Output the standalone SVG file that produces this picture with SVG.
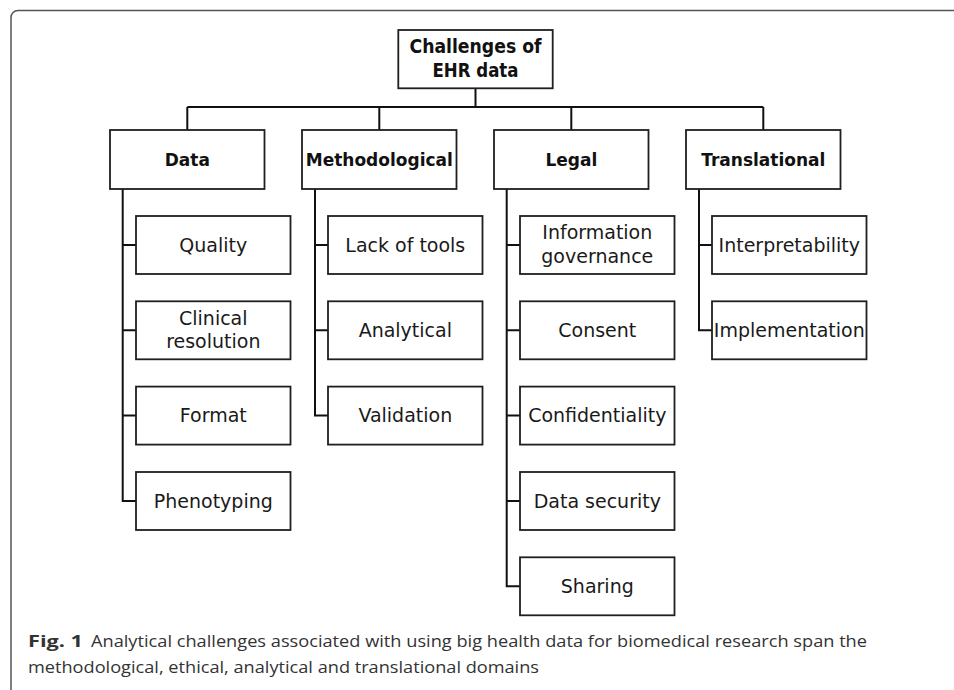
<svg xmlns="http://www.w3.org/2000/svg" width="954" height="690" viewBox="0 0 954 690">
<style>
.box{fill:#fff;stroke:#1f1f1f;stroke-width:1.8}
.conn{fill:none;stroke:#111;stroke-width:2}
.root{font-family:"DejaVu Sans Condensed","DejaVu Sans",sans-serif;font-stretch:condensed;font-weight:bold;font-size:19px;fill:#111;text-anchor:middle}
.cat{font-family:"DejaVu Sans",sans-serif;font-weight:bold;font-size:17px;fill:#111;text-anchor:middle}
.sub{font-family:"DejaVu Sans",sans-serif;font-size:19px;fill:#1a1a1a;text-anchor:middle}
.cap{font-family:"Open Sans","Liberation Sans",sans-serif;font-size:16.5px;fill:#333}
</style>
<rect x="11" y="10.5" width="1000" height="1000" rx="7" fill="none" stroke="#555" stroke-width="1.5"/>
<g id="connectors">
<path class="conn" d="M475.5 88.3V107M187.3 107H763.3M187.3 107V130M379.3 107V130M571.3 107V130M763.3 107V130"/>
<path class="conn" d="M122.7 189V501H136M122.7 245H136M122.7 330.3H136M122.7 415.6H136"/>
<path class="conn" d="M315 189V415.6H328M315 245H328M315 330.3H328"/>
<path class="conn" d="M506.7 189V586.3H520M506.7 245H520M506.7 330.3H520M506.7 415.6H520M506.7 501H520"/>
<path class="conn" d="M699 189V330.3H712M699 245H712"/>
</g>
<g id="root"><rect class="box" x="398.3" y="30" width="154.4" height="58.3"/><text class="root" x="475.5" y="53.3" textLength="132" lengthAdjust="spacingAndGlyphs">Challenges of</text><text class="root" x="475.5" y="76.7" textLength="86" lengthAdjust="spacingAndGlyphs">EHR data</text></g>
<g id="cat-data"><rect class="box" x="110" y="130" width="154.5" height="59"/><text class="cat" x="187.3" y="165.7">Data</text></g>
<g id="cat-method"><rect class="box" x="302" y="130" width="154.5" height="59"/><text class="cat" x="379.3" y="165.7">Methodological</text></g>
<g id="cat-legal"><rect class="box" x="494" y="130" width="154.5" height="59"/><text class="cat" x="571.3" y="165.7">Legal</text></g>
<g id="cat-trans"><rect class="box" x="686" y="130" width="154.5" height="59"/><text class="cat" x="763.3" y="165.7">Translational</text></g>
<g id="quality"><rect class="box" x="136" y="216" width="154.5" height="58"/><text class="sub" x="213.3" y="251.8">Quality</text></g>
<g id="clinical"><rect class="box" x="136" y="301.3" width="154.5" height="58"/><text class="sub" x="213.3" y="325">Clinical</text><text class="sub" x="213.3" y="348.3">resolution</text></g>
<g id="format"><rect class="box" x="136" y="386.6" width="154.5" height="58"/><text class="sub" x="213.3" y="422.4">Format</text></g>
<g id="phenotyping"><rect class="box" x="136" y="472" width="154.5" height="58"/><text class="sub" x="213.3" y="507.8">Phenotyping</text></g>
<g id="lack-tools"><rect class="box" x="328" y="216" width="154.5" height="58"/><text class="sub" x="405.3" y="251.8">Lack of tools</text></g>
<g id="analytical"><rect class="box" x="328" y="301.3" width="154.5" height="58"/><text class="sub" x="405.3" y="337.1">Analytical</text></g>
<g id="validation"><rect class="box" x="328" y="386.6" width="154.5" height="58"/><text class="sub" x="405.3" y="422.4">Validation</text></g>
<g id="info-gov"><rect class="box" x="520" y="216" width="154.5" height="58"/><text class="sub" x="597.3" y="239.3">Information</text><text class="sub" x="597.3" y="262.7">governance</text></g>
<g id="consent"><rect class="box" x="520" y="301.3" width="154.5" height="58"/><text class="sub" x="597.3" y="337.1">Consent</text></g>
<g id="confidentiality"><rect class="box" x="520" y="386.6" width="154.5" height="58"/><text class="sub" x="597.3" y="422.4">Confidentiality</text></g>
<g id="data-security"><rect class="box" x="520" y="472" width="154.5" height="58"/><text class="sub" x="597.3" y="507.8">Data security</text></g>
<g id="sharing"><rect class="box" x="520" y="557.3" width="154.5" height="58"/><text class="sub" x="597.3" y="593.1">Sharing</text></g>
<g id="interpretability"><rect class="box" x="712" y="216" width="154.5" height="58"/><text class="sub" x="789.3" y="251.8">Interpretability</text></g>
<g id="implementation"><rect class="box" x="712" y="301.3" width="154.5" height="58"/><text class="sub" x="789.3" y="337.1">Implementation</text></g>
<g id="caption">
<text class="cap" x="28" y="647" font-weight="bold" fill="#111" textLength="55" lengthAdjust="spacingAndGlyphs">Fig. 1</text>
<text class="cap" x="91" y="647" textLength="776" lengthAdjust="spacingAndGlyphs">Analytical challenges associated with using big health data for biomedical research span the</text>
<text class="cap" x="28" y="673" textLength="511" lengthAdjust="spacingAndGlyphs">methodological, ethical, analytical and translational domains</text>
</g>
</svg>
